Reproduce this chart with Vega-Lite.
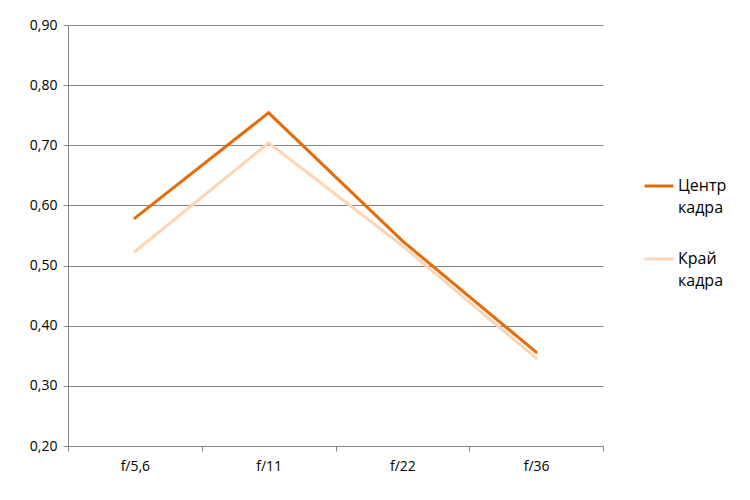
{
  "$schema": "https://vega.github.io/schema/vega-lite/v6.json",
  "width": 535,
  "height": 421,
  "autosize": {"type": "none"},
  "padding": {"left": 68, "top": 25, "right": 147, "bottom": 54},
  "background": "white",
  "data": {
    "values": [
      {"f": "f/5,6", "series": "Центр кадра", "v": 0.579},
      {"f": "f/11", "series": "Центр кадра", "v": 0.754},
      {"f": "f/22", "series": "Центр кадра", "v": 0.541},
      {"f": "f/36", "series": "Центр кадра", "v": 0.356},
      {"f": "f/5,6", "series": "Край кадра", "v": 0.523},
      {"f": "f/11", "series": "Край кадра", "v": 0.704},
      {"f": "f/22", "series": "Край кадра", "v": 0.533},
      {"f": "f/36", "series": "Край кадра", "v": 0.346}
    ]
  },
  "mark": {"type": "line", "strokeWidth": 3, "strokeCap": "round", "strokeJoin": "miter"},
  "encoding": {
    "x": {
      "field": "f",
      "type": "ordinal",
      "sort": ["f/5,6", "f/11", "f/22", "f/36"],
      "scale": {"type": "band", "paddingInner": 0, "paddingOuter": 0},
      "bandPosition": 0.5,
      "axis": {
        "title": null,
        "labelAngle": 0,
        "tickBand": "extent",
        "grid": false,
        "domainColor": "#868686",
        "tickColor": "#868686",
        "tickSize": 5,
        "labelPadding": 8,
        "labelFont": "Open Sans",
        "labelFontSize": 14,
        "labelColor": "#000000"
      }
    },
    "y": {
      "field": "v",
      "type": "quantitative",
      "scale": {"domain": [0.2, 0.9], "nice": false, "zero": false},
      "axis": {
        "title": null,
        "values": [0.2, 0.3, 0.4, 0.5, 0.6, 0.7, 0.8, 0.9],
        "labelExpr": "replace(format(datum.value, '.2f'), '.', ',')",
        "grid": true,
        "gridColor": "#868686",
        "domainColor": "#868686",
        "tickColor": "#868686",
        "tickSize": 5,
        "labelPadding": 6,
        "labelFont": "Open Sans",
        "labelFontSize": 14,
        "labelColor": "#000000"
      }
    },
    "color": {
      "field": "series",
      "type": "nominal",
      "sort": ["Центр кадра", "Край кадра"],
      "scale": {"domain": ["Центр кадра", "Край кадра"], "range": ["#E46C0A", "#FCD5B5"]},
      "legend": {
        "title": null,
        "orient": "none",
        "legendX": 575,
        "legendY": 145,
        "symbolType": "stroke",
        "symbolStrokeWidth": 3,
        "symbolSize": 841,
        "labelExpr": "split(datum.label, ' ')",
        "labelFont": "Open Sans",
        "labelFontSize": 16,
        "labelColor": "#000000",
        "labelLimit": 200,
        "rowPadding": 27,
        "labelOffset": 3
      }
    }
  },
  "config": {
    "view": {"stroke": null},
    "style": {"guide-label": {"lineHeight": 22}}
  }
}
